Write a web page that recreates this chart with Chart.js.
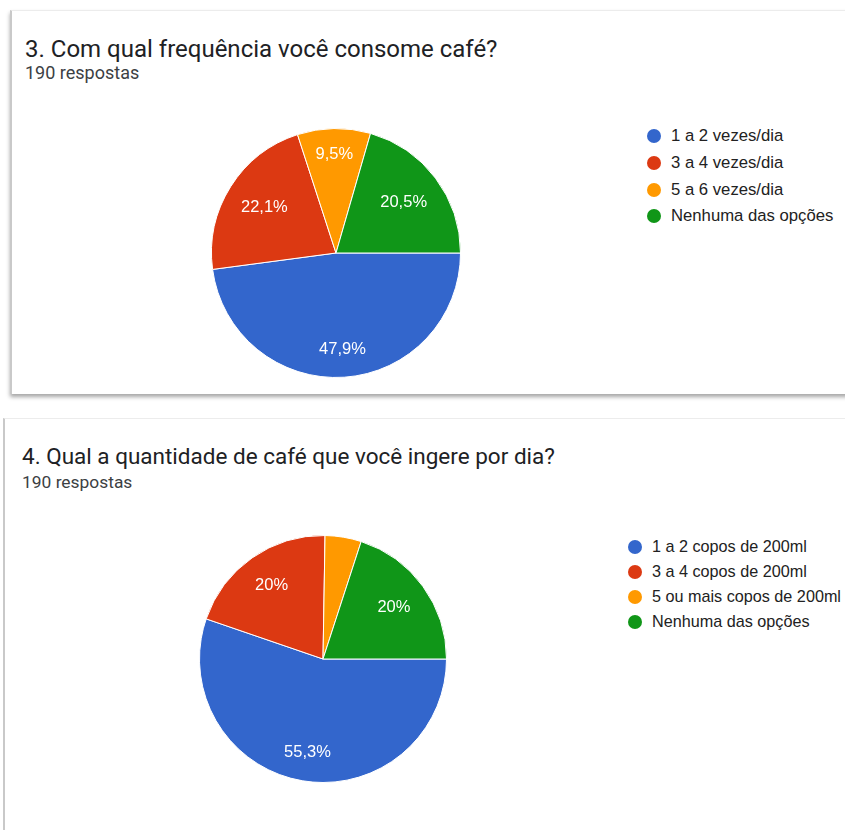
<!DOCTYPE html>
<html lang="pt-BR">
<head>
<meta charset="utf-8">
<title>Respostas - café</title>
<script src="https://cdn.jsdelivr.net/npm/chart.js@4.4.1/dist/chart.umd.min.js"></script>
<style>
    html, body {
        margin: 0;
        padding: 0;
        width: 845px;
        height: 830px;
        overflow: hidden;
        background: #fff;
    }
    .card {
        position: absolute;
        width: 900px;
        background: #fff;
        border-left: 2px solid #c9c9c9;
        border-top: 1px solid #ececec;
    }
    #card1 {
        left: 10px;
        top: 10px;
        height: 383px;
        box-shadow: 0 3px 4px rgba(0, 0, 0, 0.35);
    }
    #card2 {
        left: 3px;
        top: 418px;
        height: 430px;
    }
    .title {
        position: absolute;
        margin: 0;
        font-family: Roboto, sans-serif;
        font-weight: 400;
        color: #202124;
        white-space: nowrap;
    }
    .count {
        position: absolute;
        margin: 0;
        font-family: Roboto, sans-serif;
        color: #3c4043;
        white-space: nowrap;
    }
    .pie {
        position: absolute;
    }
    .legend {
        position: absolute;
        margin: 0;
        padding: 0;
        list-style: none;
        font-family: "Liberation Sans", Arial, sans-serif;
        color: #222;
        white-space: nowrap;
    }
    .legend li {
        position: relative;
        display: flex;
        align-items: center;
    }
    .legend .dot {
        display: inline-block;
        border-radius: 50%;
    }
</style>
</head>
<body>

<div class="card" id="card1"></div>
<div class="card" id="card2"></div>

<h2 class="title" style="left:25px; top:37px; font-size:24px; line-height:24px;">3. Com qual frequência você consome café?</h2>
<p class="count" style="left:25px; top:64px; font-size:18px; line-height:18px;">190 respostas</p>
<div class="pie" style="left:211px; top:128px; width:250px; height:250px;"><canvas id="freqChart"></canvas></div>
<ul class="legend" id="freqLegend"></ul>

<h2 class="title" style="left:22px; top:445px; font-size:22.5px; line-height:22.5px;">4. Qual a quantidade de café que você ingere por dia?</h2>
<p class="count" style="left:22px; top:474px; font-size:17.4px; line-height:17.4px;">190 respostas</p>
<div class="pie" style="left:199px; top:535px; width:248px; height:248px;"><canvas id="qtyChart"></canvas></div>
<ul class="legend" id="qtyLegend"></ul>

<script>
// Question 3 - how often
const freqLabels = ["1 a 2 vezes/dia", "3 a 4 vezes/dia", "5 a 6 vezes/dia", "Nenhuma das opções"];
const freqCounts = [91, 42, 18, 39];

// Question 4 - how much
const qtyLabels = ["1 a 2 copos de 200ml", "3 a 4 copos de 200ml", "5 ou mais copos de 200ml", "Nenhuma das opções"];
const qtyCounts = [105, 38, 9, 38];

const sliceColors = ["#3366cc", "#dc3912", "#ff9900", "#109618"];

// "47,9%" style, comma as decimal separator
const formatPercent = (value, total) => {
    const pct = Math.round(value / total * 1000) / 10;
    return String(pct).replace(".", ",") + "%";
};

// Writes the percentage inside each slice, along its bisector
const sliceLabels = {
    id: "sliceLabels",
    afterDatasetsDraw(chart, args, opts) {
        const ctx = chart.ctx;
        const data = chart.data.datasets[0].data;
        const total = data.reduce((a, b) => a + b, 0);
        ctx.save();
        ctx.fillStyle = "#fff";
        ctx.font = opts.font;
        ctx.textAlign = "center";
        ctx.textBaseline = "middle";
        chart.getDatasetMeta(0).data.forEach((arc, i) => {
            if (data[i] / total < opts.minShare) return;
            const mid = (arc.startAngle + arc.endAngle) / 2;
            const r = arc.outerRadius * opts.radius[i];
            ctx.fillText(formatPercent(data[i], total), arc.x + Math.cos(mid) * r, arc.y + Math.sin(mid) * r);
        });
        ctx.restore();
    }
};

const makePie = (canvasId, labels, counts, labelRadius) => {
    return new Chart(document.getElementById(canvasId), {
        type: "pie",
        data: {
            labels: labels,
            datasets: [{
                data: counts,
                backgroundColor: sliceColors,
                borderColor: "#fff",
                borderWidth: 1
            }]
        },
        options: {
            responsive: true,
            maintainAspectRatio: false,
            animation: false,
            rotation: 90, // first slice starts at 3 o'clock
            layout: { padding: 0 },
            plugins: {
                legend: { display: false },
                tooltip: { enabled: false },
                sliceLabels: {
                    font: '16.5px "Liberation Sans", Arial, sans-serif',
                    radius: labelRadius,
                    minShare: 0.05
                }
            }
        },
        plugins: [sliceLabels]
    });
};

// HTML legend built from the chart's own legend items
const renderLegend = (chart, listId, pos) => {
    const list = document.getElementById(listId);
    list.style.left = pos.left + "px";
    list.style.top = pos.top + "px";
    list.style.fontSize = pos.fontSize + "px";
    const items = chart.options.plugins.legend.labels.generateLabels(chart);
    items.forEach(item => {
        const li = document.createElement("li");
        li.style.height = pos.rowHeight + "px";
        const dot = document.createElement("span");
        dot.className = "dot";
        dot.style.width = pos.dot + "px";
        dot.style.height = pos.dot + "px";
        dot.style.background = item.fillStyle;
        dot.style.marginRight = pos.gap + "px";
        const text = document.createElement("span");
        text.textContent = item.text;
        li.appendChild(dot);
        li.appendChild(text);
        list.appendChild(li);
    });
};

const freqChart = makePie("freqChart", freqLabels, freqCounts, [0.78, 0.68, 0.79, 0.68]);
const qtyChart = makePie("qtyChart", qtyLabels, qtyCounts, [0.765, 0.725, 0.7, 0.71]);

renderLegend(freqChart, "freqLegend", { left: 647, top: 123, rowHeight: 26.7, fontSize: 16.7, dot: 14, gap: 10 });
renderLegend(qtyChart, "qtyLegend", { left: 628, top: 534, rowHeight: 25, fontSize: 16.2, dot: 14, gap: 10 });
</script>
</body>
</html>
